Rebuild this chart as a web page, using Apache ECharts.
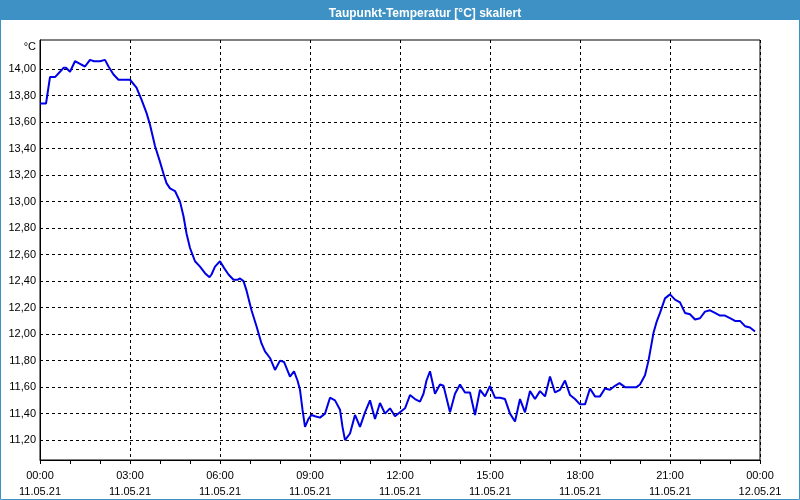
<!DOCTYPE html>
<html>
<head>
<meta charset="utf-8">
<script src="https://cdn.jsdelivr.net/npm/echarts@6/dist/echarts.min.js"></script>
<style>
html,body{margin:0;padding:0;background:#fff;}
#c{width:800px;height:500px;}
</style>
</head>
<body>
<div id="c"></div>
<script>
var titleText = 'Taupunkt-Temperatur [°C] skaliert';
var yUnit = '°C';
var times = ['00:00','00:12','00:20','00:30','00:40','00:47','00:52','01:00','01:10','01:20','01:30','01:40','01:48','02:00','02:10','02:17','02:27','02:37','03:00','03:13','03:23','03:33','03:40','03:50','04:00','04:07','04:13','04:20','04:30','04:40','04:47','04:53','05:00','05:10','05:20','05:30','05:39','05:43','05:50','06:00','06:08','06:17','06:27','06:35','06:40','06:47','06:53','07:03','07:13','07:23','07:30','07:40','07:50','08:00','08:08','08:20','08:28','08:35','08:40','08:45','08:50','08:57','09:03','09:10','09:20','09:30','09:40','09:50','10:00','10:05','10:10','10:20','10:30','10:40','10:50','11:00','11:10','11:20','11:30','11:40','11:50','12:00','12:10','12:20','12:30','12:40','12:47','12:53','13:00','13:10','13:20','13:27','13:40','13:50','14:00','14:10','14:20','14:30','14:40','14:50','15:00','15:10','15:20','15:30','15:40','15:50','16:00','16:10','16:20','16:30','16:40','16:50','17:00','17:10','17:20','17:30','17:40','17:50','18:00','18:10','18:20','18:30','18:40','18:50','19:00','19:10','19:19','19:30','19:40','19:53','20:00','20:10','20:17','20:27','20:33','20:40','20:50','21:00','21:10','21:20','21:30','21:40','21:50','22:00','22:10','22:20','22:30','22:40','22:50','23:00','23:10','23:20','23:30','23:40','23:50'];
var dewPoint = [13.74,13.74,13.94,13.94,13.98,14.01,14.01,13.98,14.06,14.04,14.02,14.07,14.06,14.06,14.07,14.02,13.96,13.92,13.92,13.86,13.77,13.67,13.58,13.42,13.30,13.21,13.14,13.10,13.08,13.00,12.89,12.76,12.65,12.55,12.51,12.46,12.43,12.45,12.51,12.55,12.50,12.45,12.41,12.41,12.42,12.40,12.33,12.18,12.06,11.93,11.87,11.82,11.73,11.80,11.79,11.68,11.72,11.65,11.58,11.43,11.30,11.36,11.39,11.38,11.37,11.40,11.52,11.50,11.43,11.30,11.20,11.25,11.39,11.30,11.41,11.50,11.36,11.48,11.40,11.44,11.38,11.41,11.44,11.54,11.51,11.49,11.55,11.65,11.72,11.55,11.62,11.61,11.41,11.55,11.62,11.56,11.56,11.39,11.58,11.53,11.61,11.52,11.52,11.51,11.40,11.34,11.51,11.41,11.57,11.51,11.57,11.53,11.68,11.56,11.58,11.65,11.54,11.51,11.47,11.47,11.59,11.53,11.53,11.59,11.58,11.61,11.63,11.60,11.60,11.60,11.62,11.69,11.80,12.01,12.09,12.16,12.27,12.30,12.26,12.24,12.16,12.15,12.11,12.12,12.17,12.18,12.16,12.14,12.14,12.12,12.10,12.10,12.06,12.05,12.02];
var xTickLabels = ['00:00\n11.05.21','03:00\n11.05.21','06:00\n11.05.21','09:00\n11.05.21','12:00\n11.05.21','15:00\n11.05.21','18:00\n11.05.21','21:00\n11.05.21','00:00\n12.05.21'];
var yTickValues = [11.2,11.4,11.6,11.8,12.0,12.2,12.4,12.6,12.8,13.0,13.2,13.4,13.6,13.8,14.0];

function toMin(t){ var p=t.split(':'); return (+p[0])*60 + (+p[1]); }
var seriesData = times.map(function(t,i){ return [toMin(t), dewPoint[i]]; });

var chart = echarts.init(document.getElementById('c'), null, {renderer:'canvas'});
var font = '"Liberation Sans", Arial, sans-serif';
chart.setOption({
  backgroundColor: '#ffffff',
  animation: false,
  title: {
    text: titleText,
    left: 420, top: 3, textAlign: 'center',
    textStyle: {color:'#ffffff', fontSize: 12, fontWeight:'bold', fontFamily: '"Liberation Sans Narrow", "Liberation Sans", sans-serif'}
  },
  graphic: [
    {type:'rect', z:-1, shape:{x:0,y:0,width:800,height:20}, style:{fill:'#3d91c4'}, silent:true},
    {type:'rect', z:100, shape:{x:0.5,y:0.5,width:799,height:499}, style:{fill:null, stroke:'#3d91c4', lineWidth:1}, silent:true}
  ],
  grid: {left:40, right:40, top:40, bottom:40, show:true, borderColor:'#000', borderWidth:1, backgroundColor:'transparent'},
  xAxis: {
    type:'value', min:0, max:1440, interval:180,
    axisLine:{show:true, lineStyle:{color:'#000', width:1}},
    axisTick:{show:true, length:4, lineStyle:{color:'#000'}},
    minorTick:{show:true, splitNumber:3, length:4, lineStyle:{color:'#000'}},
    splitLine:{show:true, lineStyle:{color:'#000', type:[3,3], width:1}},
    axisLabel:{
      color:'#000', fontSize:11, fontFamily:font, margin:8, lineHeight:16,
      formatter:function(v){ return xTickLabels[Math.round(v/180)]; }
    }
  },
  yAxis: {
    type:'value', min:11.05, max:14.22,
    name: yUnit, nameLocation:'end', nameGap:-7,
    nameTextStyle:{color:'#000', fontSize:11, fontFamily:font, align:'right', verticalAlign:'middle', padding:[0,4,0,0]},
    axisLine:{show:true, lineStyle:{color:'#000', width:1}},
    axisTick:{show:false, customValues: yTickValues},
    splitLine:{show:true, lineStyle:{color:'#000', type:[3,3], width:1}},
    axisLabel:{
      customValues: yTickValues,
      color:'#000', fontSize:11, fontFamily:font, margin:4,
      formatter:function(v){ return v.toFixed(2).replace('.', ','); }
    }
  },
  series: [{
    type:'line', data: seriesData, showSymbol:false, symbol:'none',
    lineStyle:{color:'#0000e6', width:2}, itemStyle:{color:'#0000e6'}
  }]
});
</script>
</body>
</html>
